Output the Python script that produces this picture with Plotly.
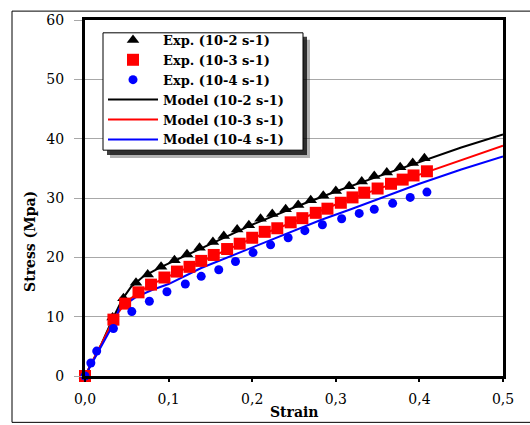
import plotly.graph_objects as go

# ---------------- data ----------------
exp1_strain = [0.0, 0.033, 0.046, 0.061, 0.075, 0.091, 0.107, 0.122, 0.137, 0.153, 0.166, 0.182, 0.196,
               0.21, 0.224, 0.24, 0.255, 0.27, 0.285, 0.3, 0.316, 0.331, 0.346, 0.361, 0.377, 0.392, 0.406]
exp1_stress = [0.0, 9.85, 13.1, 15.7, 17.1, 18.4, 19.5, 20.5, 21.6, 22.6, 23.6, 24.7, 25.4,
               26.5, 27.3, 28.1, 28.8, 29.6, 30.4, 31.2, 32.0, 32.8, 33.7, 34.3, 35.2, 35.9, 36.7]

exp2_strain = [0.0, 0.034, 0.048, 0.064, 0.079, 0.095, 0.11, 0.125, 0.139, 0.154, 0.17, 0.185, 0.2,
               0.215, 0.23, 0.246, 0.26, 0.276, 0.29, 0.306, 0.32, 0.334, 0.35, 0.366, 0.38, 0.393, 0.409]
exp2_stress = [0.0, 9.5, 12.2, 14.1, 15.4, 16.6, 17.6, 18.4, 19.4, 20.4, 21.4, 22.3, 23.3,
               24.3, 24.9, 25.9, 26.6, 27.5, 28.2, 29.2, 30.1, 30.9, 31.6, 32.4, 33.1, 33.8, 34.5]

exp3_strain = [0.0, 0.007, 0.014, 0.034, 0.056, 0.077, 0.098, 0.12, 0.139, 0.16, 0.18, 0.201, 0.222,
               0.243, 0.263, 0.284, 0.307, 0.328, 0.346, 0.368, 0.389, 0.409]
exp3_stress = [0.0, 2.2, 4.2, 8.0, 10.85, 12.6, 14.2, 15.5, 16.8, 17.9, 19.3, 20.8, 22.1,
               23.3, 24.5, 25.5, 26.5, 27.4, 28.1, 29.1, 30.1, 31.0]

mod1_strain = [0.0, 0.01, 0.02, 0.033, 0.045, 0.055, 0.07, 0.09, 0.11, 0.14, 0.17, 0.2, 0.25, 0.3, 0.35, 0.4, 0.45, 0.5]
mod1_stress = [0.0, 2.7, 5.5, 9.6, 13.0, 15.0, 16.8, 18.3, 19.6, 21.5, 23.5, 25.5, 28.4, 31.1, 33.6, 36.1, 38.5, 40.7]

mod2_strain = [0.0, 0.01, 0.02, 0.034, 0.048, 0.065, 0.08, 0.1, 0.15, 0.2, 0.25, 0.3, 0.35, 0.4, 0.45, 0.5]
mod2_stress = [0.0, 2.7, 5.5, 9.5, 12.3, 14.2, 15.5, 16.8, 20.0, 23.2, 26.0, 28.9, 31.5, 33.9, 36.4, 38.8]

mod3_strain = [0.0, 0.01, 0.02, 0.035, 0.041, 0.06, 0.08, 0.1, 0.139, 0.2, 0.25, 0.282, 0.318, 0.35, 0.4, 0.45, 0.5]
mod3_stress = [0.0, 2.5, 5.0, 9.0, 11.4, 13.2, 14.5, 15.5, 18.2, 21.7, 24.5, 26.3, 28.1, 29.8, 32.4, 34.8, 37.0]

x_ticks = [0.0, 0.1, 0.2, 0.3, 0.4, 0.5]
x_ticktext = ["0,0", "0,1", "0,2", "0,3", "0,4", "0,5"]
y_ticks = [0, 10, 20, 30, 40, 50, 60]

# ---------------- figure ----------------
W, H = 530, 425
L, R, T, B = 85, 27, 15, 49
pw, ph = W - L - R, H - T - B


def px2x(px):
    return (px - L) / pw


def px2y(py):
    return (H - B - py) / ph


FONT = "DejaVu Serif"

fig = go.Figure()
fig.add_trace(go.Scatter(x=mod1_strain, y=mod1_stress, mode="lines", name="Model (10-2 s-1)",
                         line=dict(color="black", width=2), legendrank=4, cliponaxis=False))
fig.add_trace(go.Scatter(x=mod2_strain, y=mod2_stress, mode="lines", name="Model (10-3 s-1)",
                         line=dict(color="#ff0000", width=2), legendrank=5, cliponaxis=False))
fig.add_trace(go.Scatter(x=mod3_strain, y=mod3_stress, mode="lines", name="Model (10-4 s-1)",
                         line=dict(color="#0000ff", width=2), legendrank=6, cliponaxis=False))
fig.add_trace(go.Scatter(x=exp1_strain, y=exp1_stress, mode="markers", name="Exp. (10-2 s-1)",
                         marker=dict(symbol="triangle-up", size=11, color="black"), legendrank=1, cliponaxis=False))
fig.add_trace(go.Scatter(x=exp2_strain, y=exp2_stress, mode="markers", name="Exp. (10-3 s-1)",
                         marker=dict(symbol="square", size=12, color="#ff0000"), legendrank=2, cliponaxis=False))
fig.add_trace(go.Scatter(x=exp3_strain, y=exp3_stress, mode="markers", name="Exp. (10-4 s-1)",
                         marker=dict(symbol="circle", size=9, color="#0000ff"), legendrank=3, cliponaxis=False))

shapes = [
    # legend drop shadow
    dict(type="rect", xref="paper", yref="paper", x0=px2x(110), x1=px2x(310), y0=px2y(155), y1=px2y(35),
         fillcolor="rgba(0,0,0,0.3)", line=dict(width=0), layer="above"),
    dict(type="rect", xref="paper", yref="paper", x0=px2x(107), x1=px2x(307), y0=px2y(152), y1=px2y(32),
         fillcolor="rgba(0,0,0,0.75)", line=dict(width=0), layer="above"),
    # legend box
    dict(type="rect", xref="paper", yref="paper", x0=px2x(103), x1=px2x(303), y0=px2y(147), y1=px2y(28),
         fillcolor="white", line=dict(color="black", width=1), layer="above"),
    # outer frame
    dict(type="line", xref="paper", yref="paper", x0=px2x(12), x1=px2x(12), y0=px2y(6), y1=px2y(423),
         line=dict(color="black", width=1)),
    dict(type="line", xref="paper", yref="paper", x0=px2x(12), x1=px2x(530), y0=px2y(6), y1=px2y(6),
         line=dict(color="black", width=1)),
    dict(type="line", xref="paper", yref="paper", x0=px2x(12), x1=px2x(530), y0=px2y(423), y1=px2y(423),
         line=dict(color="black", width=1)),
]

annotations = [
    dict(text="<b>Strain</b>", xref="paper", yref="paper", x=0.5, y=px2y(413), showarrow=False,
         xanchor="center", yanchor="middle", font=dict(family=FONT, size=14, color="black")),
    dict(text="<b>Stress (Mpa)</b>", xref="paper", yref="paper", x=px2x(30), y=px2y(240), showarrow=False,
         textangle=-90, xanchor="center", yanchor="middle", font=dict(family=FONT, size=14, color="black")),
]

fig.update_layout(
    width=W, height=H,
    margin=dict(l=L, r=R, t=T, b=B),
    paper_bgcolor="white", plot_bgcolor="white",
    font=dict(family=FONT, size=14, color="black"),
    showlegend=True,
    legend=dict(x=px2x(103), y=px2y(20), xanchor="left", yanchor="top",
                bgcolor="rgba(0,0,0,0)", borderwidth=0,
                font=dict(family=FONT, size=13, color="black", weight="bold"),
                itemwidth=50, tracegroupgap=0),
    shapes=shapes,
    annotations=annotations,
    xaxis=dict(range=[0, 0.5], tickvals=x_ticks, ticktext=x_ticktext, showgrid=False, zeroline=False,
               showline=True, linecolor="black", linewidth=3, mirror=True,
               ticks="outside", ticklen=3, tickwidth=2, tickcolor="black",
               tickfont=dict(family=FONT, size=14, color="black"), ticklabelstandoff=5),
    yaxis=dict(range=[0, 60], tickvals=y_ticks, showgrid=True, gridcolor="#a8a8a8", gridwidth=1, zeroline=False,
               showline=True, linecolor="black", linewidth=3, mirror=True,
               ticks="outside", ticklen=8, tickwidth=1, tickcolor="#a8a8a8",
               tickfont=dict(family=FONT, size=14, color="black"), ticklabelstandoff=7),
)

fig.write_html("out.html")
